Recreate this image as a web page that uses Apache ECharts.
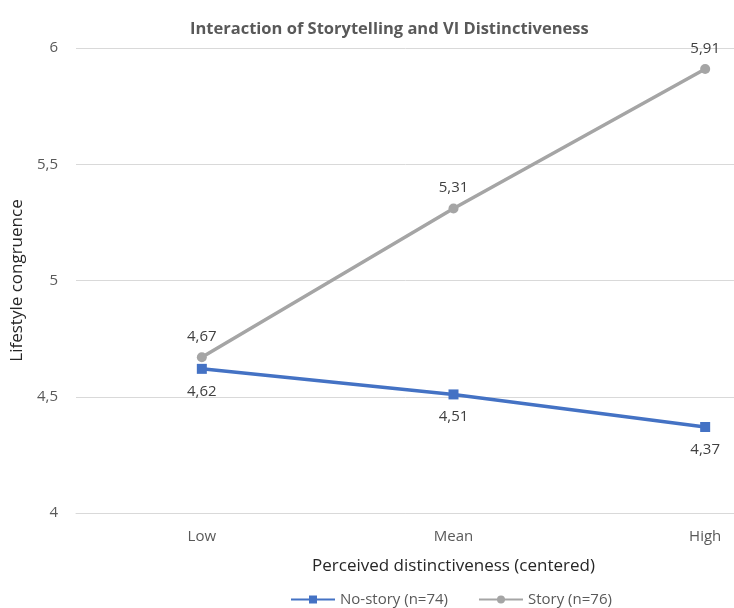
<!DOCTYPE html>
<html>
<head>
<meta charset="utf-8">
<script src="https://cdn.jsdelivr.net/npm/echarts@6/dist/echarts.min.js"></script>
<style>
  html, body { margin: 0; padding: 0; background: #fff; }
  #chart { width: 734px; height: 608px; }
</style>
</head>
<body>
<div id="chart"></div>
<script>
// data
var categories = ['Low', 'Mean', 'High'];
var noStory = [4.62, 4.51, 4.37];
var story = [4.67, 5.31, 5.91];
var yTicks = [4, 4.5, 5, 5.5, 6];

function comma(v) {
    return String(v).replace('.', ',');
}

var myChart = echarts.init(document.getElementById('chart'));
var font = '"Open Sans", "Noto Sans", sans-serif';

var option = {
    animation: false,
    textStyle: { fontFamily: font },
    title: {
        text: 'Interaction of Storytelling and VI Distinctiveness',
        left: 185,
        top: 16,
        textStyle: {
            fontFamily: font,
            fontSize: 16.5,
            fontWeight: 'bold',
            color: '#595959'
        }
    },
    legend: {
        left: 285,
        top: 587,
        itemWidth: 44,
        itemHeight: 10,
        itemGap: 30,
        textStyle: { fontSize: 15, color: '#595959', fontFamily: font },
        data: ['No-story (n=74)', 'Story (n=76)']
    },
    grid: {
        left: 76,
        width: 755,
        top: 48,
        bottom: 95,
        outerBoundsMode: 'none'
    },
    xAxis: {
        type: 'category',
        boundaryGap: true,
        data: categories,
        name: 'Perceived distinctiveness (centered)',
        nameLocation: 'middle',
        nameGap: 45,
        nameTextStyle: { fontSize: 17, color: '#262626', fontFamily: font },
        axisLine: { lineStyle: { color: '#d9d9d9' } },
        axisTick: { show: false },
        axisLabel: { fontSize: 15, color: '#595959', margin: 16 }
    },
    yAxis: {
        type: 'value',
        min: yTicks[0],
        max: yTicks[yTicks.length - 1],
        interval: 0.5,
        name: 'Lifestyle congruence',
        nameLocation: 'middle',
        nameGap: 45,
        nameTextStyle: { fontSize: 17, color: '#262626', fontFamily: font },
        axisLine: { show: false },
        axisTick: { show: false },
        axisLabel: {
            fontSize: 15,
            color: '#595959',
            margin: 18,
            formatter: function (v) { return comma(v); }
        },
        splitLine: { lineStyle: { color: '#d9d9d9', width: 1 } }
    },
    series: [{
        name: 'No-story (n=74)',
        type: 'line',
        data: noStory,
        symbol: 'rect',
        symbolSize: 10,
        lineStyle: { color: '#4472C4', width: 3.5 },
        itemStyle: { color: '#4472C4' },
        label: {
            show: true,
            position: 'bottom',
            distance: 10,
            fontSize: 15,
            color: '#404040',
            formatter: function (p) { return comma(p.value); }
        }
    }, {
        name: 'Story (n=76)',
        type: 'line',
        data: story,
        symbol: 'circle',
        symbolSize: 10,
        lineStyle: { color: '#A5A5A5', width: 3.5 },
        itemStyle: { color: '#A5A5A5' },
        label: {
            show: true,
            position: 'top',
            distance: 8,
            fontSize: 15,
            color: '#404040',
            formatter: function (p) { return comma(p.value); }
        }
    }]
};
myChart.setOption(option);
</script>
</body>
</html>
